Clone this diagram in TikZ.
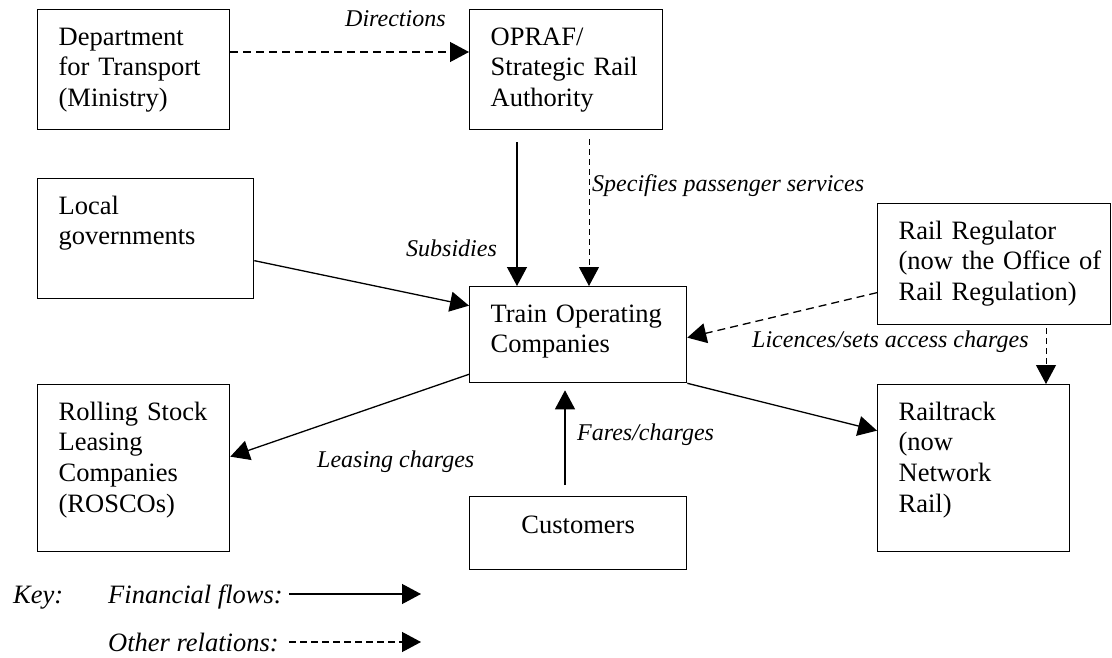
\documentclass[tikz,border=0pt]{standalone}
\usepackage{fontspec}
\setmainfont{Liberation Serif}
\usetikzlibrary{arrows.meta}
\newcommand{\boxfont}{\fontsize{26.5pt}{30.8pt}\selectfont}
\newcommand{\notefont}{\fontsize{24pt}{28pt}\selectfont}

\begin{document}
\begin{tikzpicture}[x=1pt,y=-1pt,
    box/.style={draw, line width=1.3pt, anchor=north west, inner xsep=21pt,
      inner ysep=0pt, align=left, text height=35.5pt, font=\boxfont},
    lbl/.style={anchor=base west, inner sep=0pt, font=\boxfont\itshape},
    note/.style={lbl, font=\notefont\itshape},
    fin/.style={line width=1.3pt, -{Triangle[length=19pt,width=20pt]}},
    rel/.style={fin, dash pattern=on 8pt off 5pt},
    relthin/.style={rel, line width=1pt, dash pattern=on 6pt off 4pt}]
  \useasboundingbox (0,0) rectangle (1112,658);

  \node[box, text width=150pt, text depth=84.5pt] (dft) at (37,9)
    {Department\\for Transport\\(Ministry)};
  \node[box, text width=151pt, text depth=84.5pt] (opraf) at (469,9)
    {OPRAF/\\Strategic Rail\\Authority};
  \node[box, text width=174pt, text depth=84.5pt] (local) at (37,178)
    {Local\\governments};
  \node[box, text width=175pt, text depth=60.5pt] (toc) at (469,286)
    {Train Operating\\Companies};
  \node[box, text width=191pt, text depth=85.5pt] (regulator) at (877,203)
    {Rail Regulator\\\mbox{(now the Office of}\\Rail Regulation)};
  \node[box, text width=150pt, text depth=131.5pt] (roscos) at (37,384)
    {Rolling Stock\\Leasing\\Companies\\(ROSCOs)};
  \node[box, align=center, text width=175pt, text height=37pt, text depth=36pt]
    (customers) at (469,496) {Customers};
  \node[box, text width=150pt, text depth=131.5pt] (railtrack) at (877,384)
    {Railtrack\\(now\\Network\\Rail)};

  \draw[rel] ([yshift=-43pt]dft.north east) -- ([yshift=-43pt]opraf.north west);
  \draw[fin] ([xshift=48pt,yshift=-12pt]opraf.south west) -- ([xshift=48pt]toc.north west);
  \draw[relthin] ([xshift=120pt,yshift=-9pt]opraf.south west) -- ([xshift=120pt]toc.north west);
  \draw[fin] ([yshift=-22pt]local.east) -- ([yshift=29pt]toc.west);
  \draw[fin] ([yshift=9pt]toc.south west) -- ([yshift=11.5pt]roscos.east);
  \draw[fin] ([xshift=96pt,yshift=11pt]customers.north west) -- ([xshift=96pt,yshift=-7pt]toc.south west);
  \draw[fin] (toc.south east) -- ([yshift=37.5pt]railtrack.west);
  \draw[rel] ([yshift=-28.5pt]regulator.west) -- ([yshift=-3pt]toc.east);
  \draw[relthin] ([xshift=169pt,yshift=-3pt]regulator.south west) -- ([xshift=169pt]railtrack.north west);

  \node[note] (ldir) at (345,27) {Directions};
  \node[note] (lspec) at (592,192) {Specifies passenger services};
  \node[note] (lsub) at (406,256) {Subsidies};
  \node[note] (llic) at (752,347) {Licences/sets access charges};
  \node[note] (lfare) at (577,440) {Fares/charges};
  \node[note] (llease) at (317,467) {Leasing charges};

  % key
  \node[lbl] (key) at (13,603) {Key:};
  \node[lbl] (kfin) at (108,603) {Financial flows:};
  \node[lbl] (krel) at (108,651) {Other relations:};
  \coordinate (kfinA) at (289,594);
  \coordinate (kfinB) at (421,594);
  \coordinate (krelA) at (289,642);
  \coordinate (krelB) at (421,642);
  \draw[fin] (kfinA) -- (kfinB);
  \draw[rel, dash pattern=on 7pt off 4pt] (krelA) -- (krelB);
\end{tikzpicture}
\end{document}
